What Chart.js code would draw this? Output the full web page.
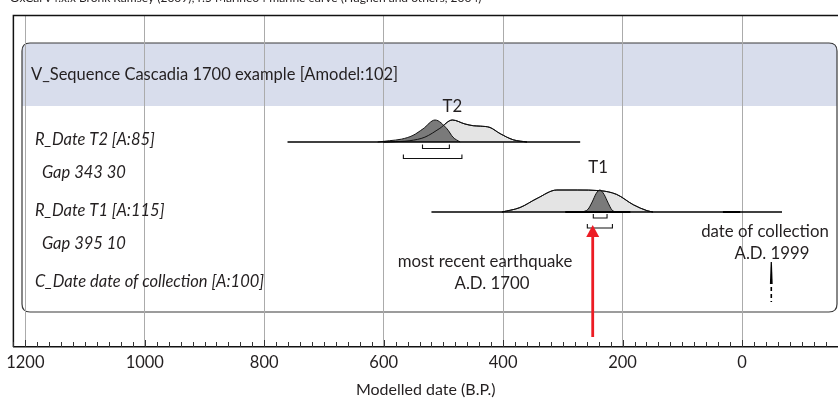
<!DOCTYPE html>
<html>
<head>
<meta charset="utf-8">
<script src="https://cdn.jsdelivr.net/npm/chart.js@4/dist/chart.umd.min.js"></script>
<style>
  html, body { margin: 0; padding: 0; background: #fff; }
  canvas { display: block; }
</style>
</head>
<body>
<canvas id="oxcalChart" width="838" height="400"></canvas>
<script>
// Modelled dates, years B.P. (x axis runs right to left)
const xTicks = [1200, 1000, 800, 600, 400, 200, 0];

// [date B.P., relative probability]
const t2Likelihood = [[600, 0], [589, 0.01], [556, 0.06], [531, 0.22], [506, 0.62], [485, 1.0], [464, 0.82],
  [450, 0.74], [438, 0.72], [422, 0.66], [405, 0.38], [383, 0.1], [360, 0]];
const t2Posterior = [[610, 0], [590, 0.06], [570, 0.13], [551, 0.3], [534, 0.6], [514, 1.0], [494, 0.6],
  [484, 0.22], [472, 0]];
const t1Likelihood = [[402, 0], [372, 0.2], [343, 0.62], [310, 1.0], [276, 1.0], [238, 0.97], [210, 0.8],
  [182, 0.33], [159, 0.06], [149, 0]];
const t1Posterior = [[268, 0], [258, 0.12], [251, 0.45], [244, 0.85], [238, 1.0], [231, 0.8], [224, 0.4],
  [218, 0.1], [212, 0]];

const t2Span = [761, 271];
const t1Span = [520, -67];
const t1PriorBars = [[296, 187], [32, 3]];

// highest posterior density ranges [from, to]
const t2Range68 = [535, 490];
const t2Range95 = [567, 469];
const t1Range68 = [249, 226];
const t1Range95 = [259, 217];

const earthquakeBP = 250;   // A.D. 1700
const collectionBP = -49;   // A.D. 1999

const headerLabel = 'V_Sequence Cascadia 1700 example [Amodel:102]';
const rowLabels = ['R_Date T2 [A:85]', 'Gap 343 30', 'R_Date T1 [A:115]', 'Gap 395 10', 'C_Date date of collection [A:100]'];
const creditLine = 'OxCal v4.x.x Bronk Ramsey (2009); r:5 Marine04 marine curve (Hughen and others, 2004)';

// layout (pixels above the axis line)
const T2_BASE = 205;
const T1_BASE = 135;
const PEAK = 22;
const FONT = 'Lato, "Open Sans", sans-serif';
const INK = '#231f20';

function curve(points, base) {
  return points.map(([v, p]) => ({ x: v, y: base + p * PEAK }));
}
function flat(span, base) {
  return span.map(v => ({ x: v, y: base }));
}

const lightFill = '#e4e4e4';
const darkFill = '#7a7a7a';

// listed bottom to top
const datasets = [
  { data: curve(t2Likelihood, T2_BASE), backgroundColor: lightFill, borderColor: '#111', borderWidth: 1, fill: { value: T2_BASE } },
  { data: curve(t2Posterior, T2_BASE), backgroundColor: darkFill, borderColor: '#111', borderWidth: 1, fill: { value: T2_BASE } },
  { data: curve(t2Likelihood, T2_BASE), borderColor: '#111', borderWidth: 1, fill: false },
  { data: flat(t2Span, T2_BASE), borderColor: '#000', borderWidth: 1.3, fill: false },
  { data: curve(t1Likelihood, T1_BASE), backgroundColor: lightFill, borderColor: '#111', borderWidth: 1, fill: { value: T1_BASE } },
  { data: curve(t1Posterior, T1_BASE), backgroundColor: darkFill, borderColor: '#111', borderWidth: 1, fill: { value: T1_BASE } },
  { data: curve(t1Likelihood, T1_BASE), borderColor: '#111', borderWidth: 1, fill: false },
  { data: flat(t1Span, T1_BASE), borderColor: '#000', borderWidth: 1.3, fill: false }
].concat(t1PriorBars.map(bar => ({ data: flat(bar, T1_BASE), borderColor: '#000', borderWidth: 2, fill: false })));

datasets.forEach((d, i) => {
  d.pointRadius = 0;
  d.cubicInterpolationMode = 'monotone';
  d.order = datasets.length - i;
});

function roundRect(ctx, l, t, r, b, rad) {
  ctx.beginPath();
  ctx.moveTo(l + rad, t);
  ctx.lineTo(r - rad, t);
  ctx.quadraticCurveTo(r, t, r, t + rad);
  ctx.lineTo(r, b - rad);
  ctx.quadraticCurveTo(r, b, r - rad, b);
  ctx.lineTo(l + rad, b);
  ctx.quadraticCurveTo(l, b, l, b - rad);
  ctx.lineTo(l, t + rad);
  ctx.quadraticCurveTo(l, t, l + rad, t);
  ctx.closePath();
}

// Background box, header band and all the OxCal decorations
const oxcalDecor = {
  id: 'oxcalDecor',
  beforeDraw(chart) {
    const ctx = chart.ctx;
    ctx.save();
    ctx.fillStyle = '#fff';
    ctx.fillRect(0, 0, chart.width, chart.height);
    roundRect(ctx, 22, 43, 837, 312, 8);
    ctx.save();
    ctx.clip();
    ctx.fillStyle = '#d8ddec';
    ctx.fillRect(22, 43, 816, 63);
    ctx.restore();
    roundRect(ctx, 22, 43, 837, 312, 8);
    ctx.strokeStyle = '#3a3a3a';
    ctx.lineWidth = 1.2;
    ctx.stroke();
    ctx.restore();
  },
  afterDraw(chart) {
    const ctx = chart.ctx;
    const x = chart.scales.x;
    const y = chart.scales.y;
    const area = chart.chartArea;
    const px = v => x.getPixelForValue(v);
    const py = v => y.getPixelForValue(v);
    ctx.save();

    // frame: left and top lines
    ctx.strokeStyle = '#111';
    ctx.lineWidth = 1.5;
    ctx.beginPath();
    ctx.moveTo(area.left, area.bottom);
    ctx.lineTo(area.left, area.top - 0.5);
    ctx.lineTo(chart.width, area.top - 0.5);
    ctx.stroke();

    // minor ticks every 20 years, pointing up
    ctx.lineWidth = 1;
    ctx.strokeStyle = '#333';
    ctx.beginPath();
    for (let v = -160; v <= 1220; v += 20) {
      const tx = Math.round(px(v)) + 0.5;
      ctx.moveTo(tx, area.bottom);
      ctx.lineTo(tx, area.bottom - (v % 200 === 0 ? 7 : 5));
    }
    ctx.stroke();

    // ranges (68.2% and 95.4%)
    const bracket = (range, yy) => {
      const a = px(range[0]), b = px(range[1]);
      ctx.beginPath();
      ctx.moveTo(a, yy - 4);
      ctx.lineTo(a, yy);
      ctx.lineTo(b, yy);
      ctx.lineTo(b, yy - 4);
      ctx.stroke();
    };
    ctx.strokeStyle = '#111';
    ctx.lineWidth = 1.1;
    bracket(t2Range68, py(T2_BASE) + 6.5);
    bracket(t2Range95, py(T2_BASE) + 16.5);
    bracket(t1Range68, py(T1_BASE) + 6);
    bracket(t1Range95, py(T1_BASE) + 16);

    // text
    ctx.fillStyle = INK;
    ctx.textBaseline = 'alphabetic';
    ctx.textAlign = 'left';
    ctx.font = '12px ' + FONT;
    ctx.fillText(creditLine, 10, 2);

    ctx.textBaseline = 'middle';
    ctx.font = '16.5px ' + FONT;
    ctx.fillText(headerLabel, 31, 75);

    ctx.font = 'italic 16.5px ' + FONT;
    const rowY = [140, 173, 211, 244, 282];
    const rowX = [35, 42, 35, 42, 35];
    rowLabels.forEach((t, i) => ctx.fillText(t, rowX[i], rowY[i]));

    ctx.textAlign = 'center';
    ctx.font = '16.8px ' + FONT;
    ctx.fillText('T2', px(485), 107);
    ctx.fillText('T1', px(241), 168);
    ctx.fillText('most recent earthquake', 485, 262);
    ctx.fillText('A.D. 1700', 492, 284);
    ctx.fillText('date of collection', 765, 232);
    ctx.fillText('A.D. 1999', 772, 254);

    // date of collection marker
    const cx = px(collectionBP);
    ctx.fillStyle = '#000';
    ctx.beginPath();
    ctx.moveTo(cx - 0.6, 262);
    ctx.lineTo(cx + 0.6, 262);
    ctx.lineTo(cx + 1.4, 284);
    ctx.lineTo(cx - 1.4, 284);
    ctx.closePath();
    ctx.fill();
    ctx.strokeStyle = '#000';
    ctx.lineWidth = 1.6;
    ctx.setLineDash([4, 3]);
    ctx.beginPath();
    ctx.moveTo(cx, 287);
    ctx.lineTo(cx, 302);
    ctx.stroke();
    ctx.setLineDash([]);

    // red arrow for the A.D. 1700 earthquake
    const ax = px(earthquakeBP);
    ctx.strokeStyle = '#ec1c24';
    ctx.fillStyle = '#ec1c24';
    ctx.lineWidth = 2.8;
    ctx.beginPath();
    ctx.moveTo(ax, 337);
    ctx.lineTo(ax, 234);
    ctx.stroke();
    ctx.beginPath();
    ctx.moveTo(ax, 225);
    ctx.lineTo(ax + 6.5, 237);
    ctx.lineTo(ax - 6.5, 237);
    ctx.closePath();
    ctx.fill();

    ctx.restore();
  }
};

new Chart(document.getElementById('oxcalChart'), {
  type: 'line',
  data: { datasets: datasets },
  plugins: [oxcalDecor],
  options: {
    responsive: false,
    animation: false,
    devicePixelRatio: 1,
    layout: { padding: { left: 13, right: 0, top: 16, bottom: 0 } },
    plugins: {
      legend: { display: false },
      tooltip: { enabled: false }
    },
    scales: {
      x: {
        type: 'linear',
        reverse: true,
        min: -160.7,
        max: 1220,
        afterBuildTicks: s => { s.ticks = xTicks.map(v => ({ value: v })); },
        afterFit: s => { s.height = 53; },
        grid: { color: '#ababab', lineWidth: 1, drawTicks: false },
        border: { display: true, color: '#111', width: 1.5 },
        ticks: {
          color: INK,
          padding: 6,
          maxRotation: 0,
          autoSkip: false,
          font: { family: FONT, size: 16.5 },
          callback: v => String(v)
        },
        title: {
          display: true,
          text: 'Modelled date (B.P.)',
          color: INK,
          font: { family: FONT, size: 16 },
          padding: { top: 2, bottom: 1 }
        }
      },
      y: { display: false, min: 0, max: 331 }
    }
  }
});
</script>
</body>
</html>
